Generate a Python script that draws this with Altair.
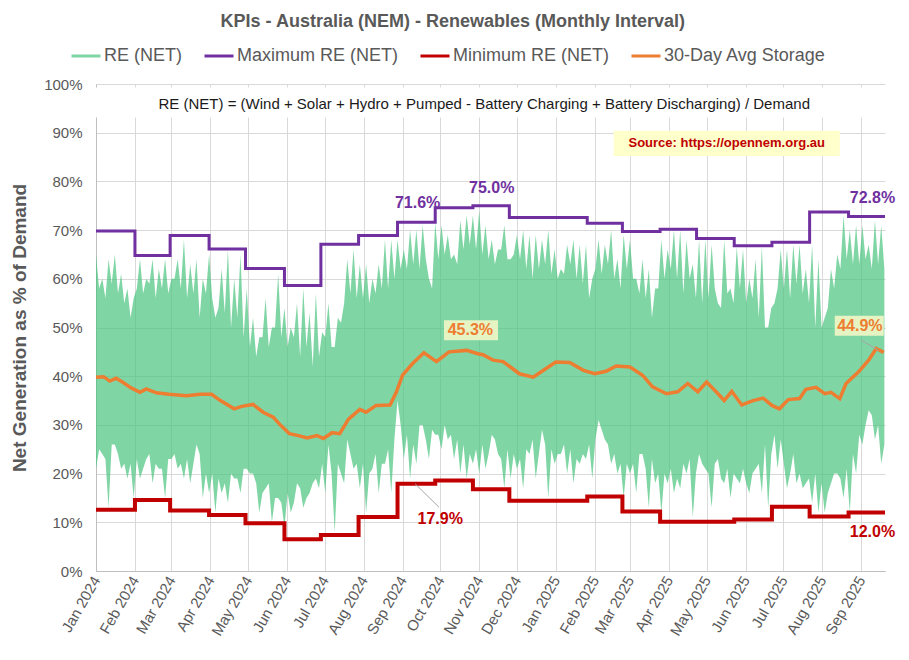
import altair as alt
import pandas as pd

FONT = "Liberation Sans"
GREY = "#595959"

# monthly max / min steps (date each step starts)
step_dates = ["2024-01-01", "2024-02-01", "2024-02-29", "2024-03-31", "2024-04-29",
              "2024-05-30", "2024-06-28", "2024-07-28", "2024-08-28", "2024-09-27",
              "2024-10-27", "2024-11-25", "2024-12-25", "2025-01-26", "2025-02-23",
              "2025-03-25", "2025-04-23", "2025-05-23", "2025-06-22", "2025-07-22",
              "2025-08-22"]
max_re = [69.8, 64.8, 68.9, 66.1, 62.1, 58.6, 67.1, 68.9, 71.6, 74.6, 75.0,
          72.6, 72.6, 71.4, 69.7, 70.2, 68.3, 66.8, 67.5, 73.7, 72.8]
min_re = [12.6, 14.6, 12.4, 11.5, 9.8, 6.5, 7.4, 11.1, 17.9, 18.6, 16.8,
          14.4, 14.4, 15.3, 12.2, 10.1, 10.1, 10.6, 13.2, 11.2, 12.0]
end_date = "2025-09-20"

# RE (NET) spikes, read every 5 days from 1 Jan 2024 (tips of the upper / lower spikes)
band_start = "2024-01-01"
re_upper = [65, 60, 64, 65, 61, 58, 56, 64, 60, 64, 62, 64, 60, 64, 68, 63, 64, 60, 65, 52,
            62, 66, 60, 65, 58, 52, 48, 56, 50, 61, 54,
            50, 55, 58, 53, 57, 49, 55, 46, 51, 64, 66, 63, 63, 60, 63, 68, 68, 68, 66, 70,
            70, 71, 60, 71.5, 71, 69, 65, 72, 73, 73, 74,
            71, 68, 66, 71, 64, 69, 70, 69, 69, 68, 70, 66, 62, 67, 68, 67, 67, 60, 68, 67,
            70, 64, 69, 68, 60, 64, 62, 58, 68, 66, 70,
            70, 68, 63, 68, 68, 67, 55, 68, 58, 66.5, 66, 60, 64, 66.5, 50, 55, 66, 66, 67, 67,
            62, 67, 64, 52, 62, 65, 73, 70, 71, 71, 67, 72, 71]
re_lower = [21, 24, 13, 26, 21, 19, 15, 19, 23, 18, 21, 15, 23, 21, 19, 18, 26, 15, 16, 12,
            16, 14, 19, 16, 21, 20, 12, 17, 10, 15, 9,
            12, 18, 13, 16, 19, 22, 26, 8, 20, 27, 21, 17, 12, 21, 16, 22, 16, 35, 23, 19,
            22, 30, 23, 28, 25, 27, 23, 20, 19, 22, 20,
            21, 28, 24, 17, 19, 21, 17, 24, 19, 29, 15, 22, 24, 20, 18, 22, 23, 19, 31, 27,
            22, 20, 15, 20, 16, 24, 13, 18, 12, 18, 16,
            17, 20, 11, 24, 21, 13, 23, 18, 15, 19, 21, 16, 21, 16, 13, 28, 27, 17, 24, 20,
            18, 14, 12, 12, 18, 20, 15, 12, 20, 26, 33, 27, 22]

# RE (NET) solid core, read between the spikes (2.5 days after each spike sample)
core_upper = [58, 56, 59, 57, 55, 52,       # Jan 2024
              58, 57, 59, 56, 58, 57,       # Feb
              60, 58, 56, 57, 52, 57,       # Mar
              56, 54, 53, 50, 52, 48,       # Apr
              46, 44, 48, 46, 50, 48,       # May
              46, 48, 44, 46, 42, 44,       # Jun
              48, 46, 52, 55, 57, 56,       # Jul
              56, 55, 57, 58, 58, 60, 62,   # Aug
              62, 63, 62, 64, 58, 64,       # Sep
              65, 64, 63, 66, 67, 66,       # Oct
              65, 64, 63, 66, 64, 65,       # Nov
              64, 62, 60, 62, 63, 61,       # Dec
              60, 61, 63, 60, 59, 56,       # Jan 2025
              62, 61, 63, 60, 58, 62,       # Feb
              60, 57, 56, 52, 58, 60,       # Mar
              62, 60, 57, 60, 56, 55,       # Apr
              56, 58, 54, 57, 55, 58,       # May
              55, 56, 52, 50, 54, 58,       # Jun
              58, 56, 59, 57, 55, 50,       # Jul
              50, 54, 58, 62, 64, 63,       # Aug
              63, 64, 62, 63, 62]           # Sep
core_lower = [25, 23, 26, 24, 22, 22,
              23, 21, 24, 22, 21, 23,
              24, 22, 23, 22, 24, 20,
              20, 19, 18, 20, 19, 21,
              20, 18, 16, 18, 15, 14,
              16, 14, 17, 15, 18, 17,
              16, 20, 22, 18, 24, 22,
              22, 20, 24, 22, 25, 27, 30,
              28, 26, 30, 27, 29, 28,
              30, 28, 27, 26, 24, 25,
              26, 24, 27, 23, 25, 24,
              23, 25, 27, 24, 26, 25,
              24, 26, 25, 23, 24, 26,
              27, 29, 26, 24, 22, 22,
              22, 24, 21, 23, 20, 20,
              21, 19, 22, 23, 20, 22,
              20, 22, 19, 21, 20, 18,
              18, 20, 22, 26, 24, 21,
              22, 20, 18, 17, 19, 20,
              18, 16, 20, 19, 21, 24,
              28, 30, 32, 30, 26]

# 30-day average
avg_dates = ["2024-01-01", "2024-01-07", "2024-01-12", "2024-01-17", "2024-01-22", "2024-01-29",
             "2024-02-05", "2024-02-10", "2024-02-18", "2024-02-28", "2024-03-13", "2024-03-24",
             "2024-04-02", "2024-04-09", "2024-04-20", "2024-04-26", "2024-05-05", "2024-05-13",
             "2024-05-21", "2024-05-27", "2024-06-03", "2024-06-10", "2024-06-17", "2024-06-25",
             "2024-06-30", "2024-07-07", "2024-07-13", "2024-07-20", "2024-07-29", "2024-08-03",
             "2024-08-11", "2024-08-22", "2024-08-27", "2024-09-01", "2024-09-09", "2024-09-18",
             "2024-09-28", "2024-10-08", "2024-10-22", "2024-10-31", "2024-11-04", "2024-11-12",
             "2024-11-20", "2024-12-03", "2024-12-14", "2024-12-21", "2025-01-01", "2025-01-12",
             "2025-01-23", "2025-02-01", "2025-02-10", "2025-02-18", "2025-03-01", "2025-03-11",
             "2025-03-19", "2025-03-30", "2025-04-08", "2025-04-16", "2025-04-24", "2025-05-01",
             "2025-05-09", "2025-05-15", "2025-05-21", "2025-05-29", "2025-06-07", "2025-06-15",
             "2025-06-22", "2025-06-28", "2025-07-05", "2025-07-14", "2025-07-19", "2025-07-27",
             "2025-08-03", "2025-08-08", "2025-08-15", "2025-08-20", "2025-08-30", "2025-09-07",
             "2025-09-13", "2025-09-19"]
avg_vals = [39.8, 39.9, 39.0, 39.6, 38.8, 37.6, 36.7, 37.4, 36.6, 36.3, 36.0, 36.3,
            36.3, 35.0, 33.3, 33.8, 34.2, 32.6, 31.6, 29.9, 28.2, 27.8, 27.3, 27.8,
            27.2, 28.4, 28.2, 31.2, 33.2, 32.6, 34.0, 34.1, 36.7, 40.2, 42.6, 44.8,
            43.0, 45.0, 45.3, 44.6, 44.4, 43.3, 43.0, 40.5, 39.8, 41.0, 42.9, 42.8,
            41.2, 40.5, 41.0, 42.1, 41.9, 40.2, 37.8, 36.4, 36.8, 38.5, 36.8, 38.8,
            36.7, 35.0, 36.9, 34.1, 35.0, 35.5, 34.0, 33.3, 35.2, 35.4, 37.3, 37.7,
            36.4, 36.7, 35.4, 38.5, 40.9, 43.3, 45.7, 44.9]

series = ["RE (NET)", "Maximum RE (NET)", "Minimum RE (NET)", "30-Day Avg Storage"]
colors = ["#7FD5A4", "#7030A0", "#C00000", "#ED7D31"]

title = "KPIs - Australia (NEM) - Renewables (Monthly Interval)"
subtitle = "RE (NET) =  (Wind + Solar + Hydro + Pumped - Battery Charging + Battery Discharging) / Demand"
source = "Source: https://opennem.org.au"

# data labels: text, date, value, colour
labels = pd.DataFrame({
    "date": pd.to_datetime(["2024-09-13", "2024-11-11", "2025-09-10", "2024-10-01",
                            "2025-09-10", "2024-10-25", "2025-08-31"]),
    "value": [75.5, 78.7, 76.6, 10.6, 8.0, 49.4, 50.3],
    "text": ["71.6%", "75.0%", "72.8%", "17.9%", "12.0%", "45.3%", "44.9%"],
    "color": ["#7030A0", "#7030A0", "#7030A0", "#C00000", "#C00000", "#ED7D31", "#ED7D31"],
})
label_boxes = pd.DataFrame({
    "date": pd.to_datetime(["2024-10-04", "2025-08-11"]),
    "date2": pd.to_datetime(["2024-11-16", "2025-09-19"]),
    "value": [51.5, 52.4], "value2": [47.4, 48.3],
})
leaders = pd.DataFrame({
    "date": pd.to_datetime(["2024-09-11", "2025-09-01"]),
    "date2": pd.to_datetime(["2024-09-30", "2025-09-15"]),
    "value": [17.9, 47.4], "value2": [13.1, 45.3],
})

# tables
spike_dates = pd.date_range(band_start, periods=len(re_upper), freq="5D")
band = pd.concat([
    pd.DataFrame({"date": spike_dates, "value": re_upper, "lower": re_lower}),
    pd.DataFrame({"date": spike_dates + pd.Timedelta(hours=60),
                  "value": core_upper, "lower": core_lower}),
]).sort_values("date")
steps = pd.DataFrame({
    "date": pd.to_datetime(step_dates + [end_date]),
    "max": max_re + [max_re[-1]],
    "min": min_re + [min_re[-1]],
})
avg = pd.DataFrame({"date": pd.to_datetime(avg_dates), "value": avg_vals})
legend_df = pd.DataFrame({"date": pd.to_datetime(["2024-06-01"] * 4), "value": [50] * 4,
                          "series": series})

x = alt.X("date:T", title=None,
          scale=alt.Scale(domain=[alt.DateTime(year=2024, month=1, date=1),
                                  alt.DateTime(year=2025, month=9, date=20)]),
          axis=alt.Axis(format="%b %Y", tickCount={"interval": "month", "step": 1},
                        labelAngle=-60, labelAlign="right", labelBaseline="middle",
                        labelPadding=6, labelFontSize=15, labelColor=GREY, labelFont=FONT,
                        grid=True, ticks=False, labelOverlap=False))
y_axis = alt.Axis(values=list(range(0, 101, 10)), labelExpr="datum.value + '%'",
                  labelFontSize=15, labelColor=GREY, labelFont=FONT, labelPadding=14,
                  ticks=False, grid=True, title="Net Generation as % of Demand",
                  titleFontSize=19, titleFont=FONT, titleFontWeight="bold",
                  titleColor=GREY, titlePadding=14)
y = alt.Y("value:Q", scale=alt.Scale(domain=[0, 100]), axis=y_axis)

area = alt.Chart(band).mark_area(color="#48C37D", opacity=0.7, interpolate="linear").encode(
    x=x, y=y, y2="lower:Q")

white_box = alt.Chart(pd.DataFrame({"date": [pd.Timestamp("2024-01-01")],
                                    "date2": [pd.Timestamp(end_date)],
                                    "value": [99.3], "value2": [93.1]})).mark_rect(
    color="white").encode(x=x, x2="date2:T", y=y, y2="value2:Q")

# title and formula, placed in data coordinates above / inside the plot
title_text = alt.Chart(pd.DataFrame({"date": [pd.Timestamp("2024-10-11")], "value": [112.7],
                                     "text": [title]})).mark_text(
    font=FONT, fontSize=18, fontWeight="bold", color=GREY).encode(x=x, y=y, text="text:N")
sub_text = alt.Chart(pd.DataFrame({"date": [pd.Timestamp("2024-11-05")], "value": [95.8],
                                   "text": [subtitle]})).mark_text(
    font=FONT, fontSize=15, color="#1A1A1A").encode(x=x, y=y, text="text:N")

src_box = alt.Chart(pd.DataFrame({"date": [pd.Timestamp("2025-02-16")],
                                  "date2": [pd.Timestamp("2025-08-15")],
                                  "value": [90.4], "value2": [85.2]})).mark_rect(
    color="#FFFFCC").encode(x=x, x2="date2:T", y=y, y2="value2:Q")
src_text = alt.Chart(pd.DataFrame({"date": [pd.Timestamp("2025-05-17")], "value": [87.8],
                                   "text": [source]})).mark_text(
    font=FONT, fontSize=13, fontWeight="bold", color="#C00000").encode(x=x, y=y, text="text:N")

max_line = alt.Chart(steps).mark_line(interpolate="step-after", color="#7030A0",
                                      strokeWidth=3).encode(
    x=x, y=alt.Y("max:Q", scale=alt.Scale(domain=[0, 100]), axis=y_axis))
min_line = alt.Chart(steps).mark_line(interpolate="step-after", color="#C00000",
                                      strokeWidth=4).encode(
    x=x, y=alt.Y("min:Q", scale=alt.Scale(domain=[0, 100]), axis=y_axis))
avg_line = alt.Chart(avg).mark_line(color="#ED7D31", strokeWidth=3.5).encode(x=x, y=y)

leader_rules = alt.Chart(leaders).mark_rule(color="#A6A6A6", strokeWidth=1).encode(
    x=x, x2="date2:T", y=y, y2="value2:Q")
boxes = alt.Chart(label_boxes).mark_rect(color="#E6F4C3").encode(
    x=x, x2="date2:T", y=y, y2="value2:Q")
label_text = alt.Chart(labels).mark_text(font=FONT, fontSize=16, fontWeight="bold").encode(
    x=x, y=y, text="text:N", color=alt.Color("color:N", scale=None))

legend_layer = alt.Chart(legend_df).mark_line().encode(
    x=x, y=y,
    color=alt.Color("series:N", scale=alt.Scale(domain=series, range=colors),
                    legend=alt.Legend(title=None, orient="none", direction="horizontal",
                                      legendX=-26, legendY=-44, symbolType="stroke",
                                      symbolSize=841, symbolStrokeWidth=3,
                                      labelFontSize=18, labelFont=FONT, labelColor=GREY,
                                      labelLimit=300, labelOffset=2, columnPadding=16,
                                      padding=0)))

chart = alt.layer(
    area, white_box, title_text, sub_text, src_box, src_text, max_line, min_line, avg_line,
    leader_rules, boxes, label_text, legend_layer
).properties(
    width=789, height=487,
    padding={"left": 88, "top": 76, "right": 16, "bottom": 81},
    autosize=alt.AutoSizeParams(type="none"),
).configure_view(stroke=None).configure_axis(
    domainColor="#BFBFBF", gridColor="#D9D9D9", domainWidth=1
)

chart.save("out.html", embed_options={"renderer": "svg", "actions": False})
